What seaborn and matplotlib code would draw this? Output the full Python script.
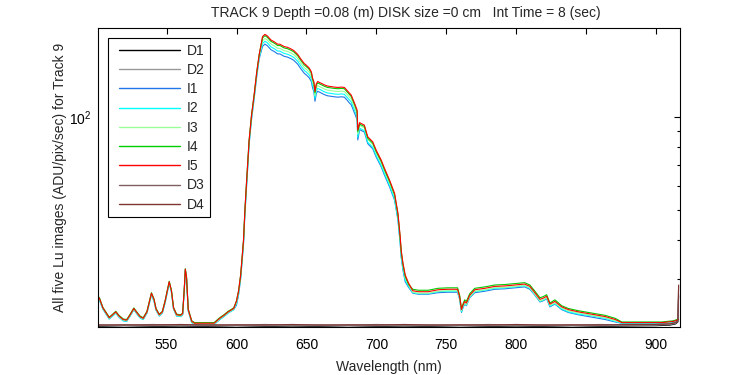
import numpy as np
import pandas as pd
import matplotlib
matplotlib.use("Agg")
import matplotlib.pyplot as plt
import seaborn as sns
from matplotlib.ticker import LogLocator, NullFormatter, FixedLocator, FixedFormatter
from matplotlib.legend_handler import HandlerLine2D

# ---------------- data ----------------
wl = [501, 502, 504.5, 509, 511, 513.7, 516, 519, 521.5, 524,
      526.6, 529, 531, 533.3, 536, 539.2, 541, 542.5, 544.8, 547,
      549, 551.9, 553.5, 555, 557.2, 560, 561.5, 562.7, 563.4, 564.3,
      565.5, 568, 570, 584, 588, 591, 594, 598,
      600, 601.5, 603, 605, 606, 607.3, 609, 610.7, 612.6, 614.5, 616.2,
      618.6, 620.3, 622, 624.6, 627, 629.4, 631, 634, 636.5, 639,
      641, 643.7, 646, 648.4, 650, 652, 653.5, 654.4, 655.3, 656.1,
      657, 658, 660, 662.8, 665, 667.6, 670, 672.4, 675, 677.1,
      679, 680.7, 682, 684.8, 686.2, 686.7,
      688, 689, 691.4, 693.8, 697.4, 699.8, 703.4, 705.8, 709.4, 713,
      715.4, 717, 717.7, 719, 720.6, 723,
      726, 730, 737, 744, 751, 758, 759.5, 760.8, 762, 763.1,
      764.3, 766.7, 770.3, 777.5, 784.6, 791.8, 799, 806, 809.7, 813.3,
      816.9, 819, 821.7, 824, 827.6, 832.4, 837.2, 844.4, 851.6, 856.3,
      863.5, 870.7, 875.4, 885, 895, 904, 912.5, 916]

I5 = [26.3, 26.0, 24.2, 22.5, 22.9, 23.5, 22.8, 22.2, 22.1, 23.0,
      24.1, 23.3, 22.7, 22.4, 23.5, 27.0, 25.8, 24.0, 23.0, 23.5,
      25.5, 29.4, 27.5, 24.2, 23.0, 22.9, 23.2, 28.0, 32.3, 30.3,
      23.9, 21.9, 21.6, 21.6, 22.4, 22.9, 23.5, 24.1,
      25.5, 27.5, 31.0, 40.0, 50.0, 63.0, 84.0, 101.0, 118.0, 140.0, 159.0,
      182, 185, 183, 177.5, 175, 172, 172, 169, 168, 166,
      164, 159.5, 154, 149, 147, 144, 140, 133.6, 130, 121,
      128, 130.3, 129, 127.1, 126, 125.5, 125, 124.7, 125, 124.7,
      122, 119.5, 117.8, 109.6, 105.3, 90.8,
      96.0, 95.4, 94.2, 86.4, 83.2, 78.3, 72.7, 68.3, 62.6, 56.7,
      48.9, 41.1, 37.2, 33.7, 30.9, 29.1,
      27.5, 27.3, 27.3, 27.7, 27.8, 27.8, 26.3, 23.9, 24.8, 25.4,
      25.1, 26.6, 27.7, 28.0, 28.4, 28.5, 28.7, 28.9, 28.4, 27.1,
      25.8, 26.0, 26.4, 24.9, 25.4, 24.4, 23.9, 23.5, 23.2, 23.0,
      22.7, 22.2, 21.7, 21.7, 21.7, 21.7, 21.9, 22.2]

I1 = [26.0, 25.7, 24.0, 22.3, 22.7, 23.3, 22.6, 22.0, 21.9, 22.8,
      23.9, 23.1, 22.5, 22.2, 23.3, 26.7, 25.5, 23.8, 22.8, 23.3,
      25.2, 29.1, 27.2, 24.0, 22.8, 22.7, 23.0, 27.7, 32.0, 30.0,
      23.7, 21.7, 21.4, 21.4, 22.2, 22.7, 23.3, 23.9,
      24.7, 26.7, 30.1, 38.8, 48.5, 61.1, 81.5, 98.0, 114.5, 135.8, 154.2,
      169.3, 172.1, 170.2, 165.1, 162.8, 160.0, 160.0, 157.2, 156.2, 154.4,
      152.5, 148.3, 143.2, 138.6, 136.7, 133.9, 130.2, 124.2, 120.9, 112.5,
      119.0, 121.2, 120.0, 118.2, 117.2, 116.7, 116.3, 116.0, 116.3, 116.0,
      113.5, 111.1, 109.6, 101.9, 97.9, 84.4,
      91.2, 90.6, 89.5, 82.1, 79.0, 74.4, 69.1, 64.9, 59.5, 53.9,
      46.5, 39.0, 35.3, 32.0, 29.4, 28.2,
      27.0, 26.8, 26.8, 27.1, 27.2, 27.2, 25.8, 23.4, 24.3, 24.9,
      24.6, 26.1, 27.1, 27.4, 27.8, 27.9, 28.1, 28.3, 27.8, 26.6,
      25.3, 25.5, 25.9, 24.4, 24.9, 23.9, 23.4, 23.0, 22.7, 22.5,
      22.2, 21.8, 21.6, 21.6, 21.6, 21.6, 21.8, 22.1]

I2 = [26.0, 25.7, 24.0, 22.3, 22.7, 23.3, 22.6, 22.0, 21.9, 22.8,
      23.9, 23.1, 22.5, 22.2, 23.3, 26.7, 25.5, 23.8, 22.8, 23.3,
      25.2, 29.1, 27.2, 24.0, 22.8, 22.7, 23.0, 27.7, 32.0, 30.0,
      23.7, 21.7, 21.4, 21.4, 22.2, 22.7, 23.3, 23.9,
      25.0, 27.0, 30.4, 39.2, 49.0, 61.7, 82.3, 99.0, 115.6, 137.2, 155.8,
      172.9, 175.8, 173.9, 168.6, 166.3, 163.4, 163.4, 160.6, 159.6, 157.7,
      155.8, 151.5, 146.3, 141.6, 139.7, 136.8, 133.0, 126.9, 123.5, 115.0,
      121.6, 123.8, 122.6, 120.7, 119.7, 119.2, 118.8, 118.5, 118.8, 118.5,
      115.9, 113.5, 111.9, 104.1, 100.0, 86.3,
      92.2, 91.6, 90.4, 82.9, 79.9, 75.2, 69.8, 65.6, 60.1, 54.4,
      46.9, 39.5, 35.7, 32.4, 29.7, 28.4,
      27.1, 26.9, 26.9, 27.3, 27.4, 27.4, 25.9, 23.5, 24.4, 25.0,
      24.7, 26.2, 27.3, 27.6, 28.0, 28.1, 28.3, 28.5, 28.0, 26.7,
      25.4, 25.6, 26.0, 24.5, 25.0, 24.0, 23.5, 23.1, 22.9, 22.7,
      22.4, 21.9, 21.6, 21.6, 21.6, 21.6, 21.8, 22.1]

I3 = [26.2, 25.9, 24.1, 22.4, 22.8, 23.4, 22.7, 22.1, 22.0, 22.9,
      24.0, 23.2, 22.6, 22.3, 23.4, 26.9, 25.7, 23.9, 22.9, 23.4,
      25.4, 29.3, 27.4, 24.1, 22.9, 22.8, 23.1, 27.9, 32.2, 30.2,
      23.8, 21.8, 21.5, 21.5, 22.3, 22.8, 23.4, 24.0,
      25.2, 27.2, 30.7, 39.6, 49.5, 62.4, 83.2, 100.0, 116.8, 138.6, 157.4,
      176.5, 179.5, 177.5, 172.2, 169.8, 166.8, 166.8, 163.9, 163.0, 161.0,
      159.1, 154.7, 149.4, 144.5, 142.6, 139.7, 135.8, 129.6, 126.1, 117.4,
      124.2, 126.4, 125.1, 123.3, 122.2, 121.7, 121.3, 121.0, 121.3, 121.0,
      118.3, 115.9, 114.3, 106.3, 102.1, 88.1,
      94.1, 93.5, 92.3, 84.7, 81.5, 76.7, 71.2, 66.9, 61.3, 55.6,
      47.9, 40.3, 36.5, 33.0, 30.3, 28.7,
      27.2, 27.0, 27.0, 27.4, 27.5, 27.5, 26.0, 23.7, 24.6, 25.1,
      24.8, 26.3, 27.4, 27.7, 28.1, 28.2, 28.4, 28.6, 28.1, 26.8,
      25.5, 25.7, 26.1, 24.7, 25.1, 24.2, 23.7, 23.3, 23.0, 22.8,
      22.5, 22.0, 21.7, 21.7, 21.7, 21.7, 21.9, 22.2]

I4 = [26.4, 26.1, 24.3, 22.6, 23.0, 23.6, 22.9, 22.3, 22.2, 23.1,
      24.2, 23.4, 22.8, 22.5, 23.6, 27.1, 25.9, 24.1, 23.1, 23.6,
      25.6, 29.5, 27.6, 24.3, 23.1, 23.0, 23.3, 28.1, 32.4, 30.4,
      24.0, 22.0, 21.7, 21.7, 22.5, 23.0, 23.6, 24.2,
      25.5, 27.5, 31.0, 40.0, 50.0, 63.0, 84.0, 101.0, 118.0, 140.0, 159.0,
      180.2, 183.2, 181.2, 175.7, 173.3, 170.3, 170.3, 167.3, 166.3, 164.3,
      162.4, 157.9, 152.5, 147.5, 145.5, 142.6, 138.6, 132.3, 128.7, 119.8,
      126.7, 129.0, 127.7, 125.8, 124.7, 124.2, 123.8, 123.5, 123.8, 123.5,
      120.8, 118.3, 116.6, 108.5, 104.2, 89.9,
      95.0, 94.4, 93.3, 85.5, 82.4, 77.5, 72.0, 67.6, 62.0, 56.1,
      48.4, 40.7, 36.8, 33.4, 30.6, 28.8,
      27.8, 27.6, 27.6, 28.0, 28.1, 28.1, 26.6, 24.1, 25.0, 25.7,
      25.4, 26.9, 28.0, 28.3, 28.7, 28.8, 29.0, 29.2, 28.7, 27.4,
      26.1, 26.3, 26.7, 25.1, 25.7, 24.6, 24.1, 23.7, 23.4, 23.2,
      22.9, 22.4, 21.8, 21.8, 21.8, 21.8, 22.0, 22.3]

dark_wl = [501, 520, 540, 560, 580, 600, 620, 640, 660, 680,
           700, 720, 740, 760, 780, 800, 820, 840, 860, 880,
           900, 910, 914, 915.5, 916]
D1 = [21.10, 21.20, 21.10, 21.15, 21.10, 21.20, 21.10, 21.15, 21.10, 21.20,
      21.10, 21.15, 21.10, 21.20, 21.10, 21.15, 21.10, 21.20, 21.10, 21.15,
      21.20, 21.30, 21.50, 21.80, 26.5]
D2 = [21.20, 21.25, 21.20, 21.30, 21.20, 21.25, 21.20, 21.30, 21.20, 21.25,
      21.20, 21.30, 21.20, 21.25, 21.20, 21.30, 21.20, 21.25, 21.20, 21.30,
      21.30, 21.40, 21.60, 21.90, 27.0]
D3 = [21.35, 21.30, 21.40, 21.30, 21.35, 21.30, 21.40, 21.30, 21.35, 21.30,
      21.40, 21.30, 21.35, 21.30, 21.40, 21.30, 21.35, 21.30, 21.40, 21.30,
      21.40, 21.50, 21.70, 22.00, 28.5]
D4 = [21.30, 21.35, 21.30, 21.40, 21.30, 21.35, 21.30, 21.40, 21.30, 21.35,
      21.30, 21.40, 21.30, 21.35, 21.30, 21.40, 21.30, 21.35, 21.30, 21.40,
      21.40, 21.50, 21.70, 22.00, 28.7]

series_order = ["D1", "D2", "I1", "I2", "I3", "I4", "I5", "D3", "D4"]
series_colors = ["#000000", "#999999", "#1f78e6", "#00ffff", "#99ff99",
                 "#00cc00", "#ff0000", "#7f5f5f", "#803535"]

title = "TRACK 9 Depth =0.08 (m) DISK size =0 cm   Int Time = 8 (sec)"
xlabel = "Wavelength (nm)"
ylabel = "All five Lu images (ADU/pix/sec) for Track 9"
xticks = [550, 600, 650, 700, 750, 800, 850, 900]

# ---------------- build long table ----------------
values = {"D1": D1, "D2": D2, "I1": I1, "I2": I2, "I3": I3, "I4": I4,
          "I5": I5, "D3": D3, "D4": D4}
frames = []
for name in series_order:
    x = dark_wl if name.startswith("D") else wl
    frames.append(pd.DataFrame({"wl": x, "val": values[name], "series": name}))
df = pd.concat(frames, ignore_index=True)

# ---------------- plot ----------------
sns.set_style("white")
plt.rcParams["font.family"] = ["Liberation Sans", "DejaVu Sans"]
plt.rcParams["mathtext.default"] = "regular"

fig = plt.figure(figsize=(7.5, 3.75), dpi=100)
ax = fig.add_axes([98 / 750, 1 - 327 / 375, (680 - 98) / 750, (327 - 28) / 375])

sns.lineplot(data=df, x="wl", y="val", hue="series", hue_order=series_order,
             palette=dict(zip(series_order, series_colors)), estimator=None,
             sort=False, linewidth=0.8, ax=ax, legend=False)

ax.set_yscale("log")
ax.set_xlim(501, 917)
ax.set_ylim(21.0, 194)

ax.xaxis.set_major_locator(FixedLocator(xticks))
ax.xaxis.set_major_formatter(FixedFormatter([str(t) for t in xticks]))
ax.yaxis.set_major_locator(FixedLocator([100]))
ax.yaxis.set_major_formatter(FixedFormatter([r"$10^{2}$"]))
ax.yaxis.set_minor_locator(LogLocator(base=10, subs=np.arange(2, 10)))
ax.yaxis.set_minor_formatter(NullFormatter())

ax.tick_params(which="both", direction="in", top=True, right=True,
               labelsize=10, colors="black", width=0.8)
ax.tick_params(which="major", length=4.5)
ax.tick_params(which="minor", length=2.5)
ax.tick_params(axis="x", which="major", pad=8)
ax.tick_params(axis="y", which="major", pad=5)
for s in ax.spines.values():
    s.set_color("black")
    s.set_linewidth(0.8)

ax.set_title(title, fontsize=10, pad=8, x=0.529)
ax.set_xlabel(xlabel, fontsize=10, labelpad=6)
ax.set_ylabel(ylabel, fontsize=10, labelpad=1.5)

handles = [plt.Line2D([], [], color=c, lw=1.0) for c in series_colors]
leg = ax.legend(handles, series_order, loc="upper left",
                bbox_to_anchor=(10 / 582, 1 - 10 / 299), fontsize=10,
                frameon=True, fancybox=False, shadow=False, framealpha=1,
                edgecolor="black", handlelength=4.77, handletextpad=0.48,
                labelspacing=0.38, borderpad=0.4, borderaxespad=0,
                handler_map={plt.Line2D: HandlerLine2D(xpad=0.4)})
leg.get_frame().set_linewidth(0.8)

fig.savefig("out.png", dpi=100)
